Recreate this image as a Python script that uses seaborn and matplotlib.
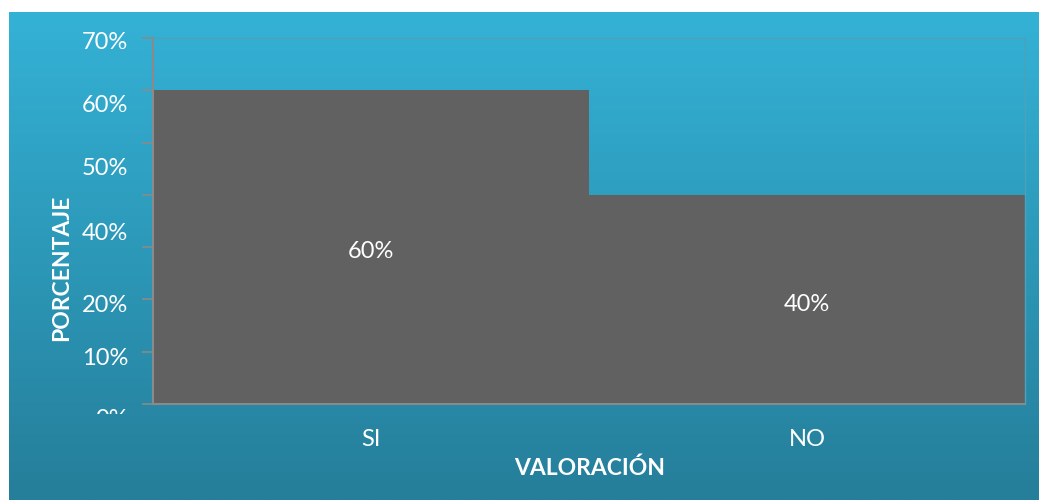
import numpy as np
import matplotlib
matplotlib.use("Agg")
import matplotlib.pyplot as plt
import seaborn as sns
from matplotlib.patches import Rectangle

# Datos
categorias = ["SI", "NO"]
porcentajes = [60, 40]
etiquetas_barras = ["60%", "40%"]

# Las etiquetas del eje Y salen desplazadas en el original (sin 30%)
pos_etiquetas_y = [69.5, 57.5, 45.4, 33.0, 19.2, 9.0]
etiquetas_y = ["70%", "60%", "50%", "40%", "20%", "10%"]

sns.set_theme(style="white")
plt.rcParams["font.family"] = ["Lato", "DejaVu Sans"]

fig = plt.figure(figsize=(10.39, 5), dpi=100)

# Fondo con degradado azul
bg = fig.add_axes([9 / 1039, 0, 1 - 9 / 1039, 1 - 12 / 500], zorder=-10)
grad = np.linspace(0, 1, 256).reshape(-1, 1)
top = np.array([52, 178, 214]) / 255
bottom = np.array([37, 126, 154]) / 255
img = top[None, None, :] * (1 - grad[:, :, None]) + bottom[None, None, :] * grad[:, :, None]
bg.imshow(img, aspect="auto", extent=[0, 1, 0, 1])
bg.set_axis_off()

ax = fig.add_axes([153 / 1039, 1 - 404 / 500, (1025 - 153) / 1039, (404 - 38) / 500])
ax.patch.set_alpha(0)

sns.barplot(x=categorias, y=porcentajes, color="#616161", saturation=1, width=1,
            linewidth=0, ax=ax)
ax.set_ylim(0, 70)
ax.set_xlim(-0.5, 1.5)

fs = 17
# ticks mayores sin texto, etiquetas en ticks menores
ax.set_yticks(np.arange(0, 71, 10))
ax.set_yticklabels([])
ax.tick_params(axis="y", which="major", left=True, length=8, width=1.2, color="#8a8a8a")
ax.set_yticks(pos_etiquetas_y, minor=True)
ax.set_yticklabels(etiquetas_y, minor=True)
ax.tick_params(axis="y", which="minor", left=False, length=0, pad=18, labelsize=fs, labelcolor="white")

ax.tick_params(axis="x", bottom=False, pad=12, labelsize=fs, labelcolor="white")

for side in ["left", "bottom"]:
    ax.spines[side].set_color("#8a8a8a")
    ax.spines[side].set_linewidth(1.5)
for side in ["top", "right"]:
    ax.spines[side].set_color("#4aa3bd")
    ax.spines[side].set_linewidth(1)

# etiqueta 0% recortada como en el original
t0 = fig.text(112 / 1039, 1 - 419 / 500, "0%", color="white", fontsize=fs, ha="center", va="center")
t0.set_clip_path(Rectangle((0, 1 - 414 / 500), 1, 1, transform=fig.transFigure))

for i, (v, lab) in enumerate(zip(porcentajes, etiquetas_barras)):
    ax.text(i, v / 2 - 0.9, lab, color="white", fontsize=fs, ha="center", va="center")

ax.set_xlabel("")
ax.set_ylabel("")
fig.text(590 / 1039, 1 - 468 / 500, "VALORACIÓN", color="white", fontsize=16.5,
         fontweight="bold", ha="center", va="center")
fig.text(62 / 1039, 1 - 268 / 500, "PORCENTAJE", color="white", fontsize=16.5,
         fontweight="bold", ha="center", va="center", rotation=90)

fig.savefig("out.png", dpi=100, facecolor="white")
